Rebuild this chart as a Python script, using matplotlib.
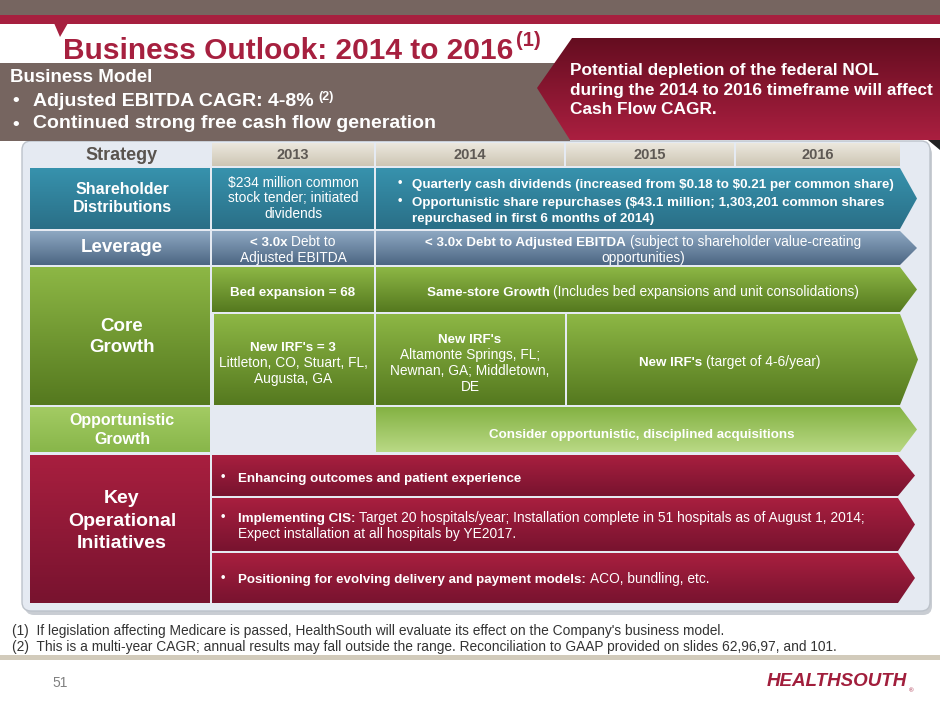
import matplotlib
matplotlib.use("Agg")
import matplotlib.pyplot as plt
import numpy as np
from matplotlib import font_manager
from matplotlib.colors import LinearSegmentedColormap
from matplotlib.patches import FancyBboxPatch, Polygon, Rectangle

# ---- slide text -------------------------------------------------------------
TITLE = "Business Outlook: 2014 to 2016"
TITLE_NOTE = "(1)"
MODEL_HEAD = "Business Model"
MODEL_BULLETS = ["Adjusted EBITDA CAGR: 4-8%", "Continued strong free cash flow generation"]
NOL_LINES = ["Potential depletion of the federal NOL",
             "during the 2014 to 2016 timeframe will affect",
             "Cash Flow CAGR."]
YEARS = ["2013", "2014", "2015", "2016"]
ROW_LABELS = ["Shareholder\nDistributions", "Leverage", "Core\nGrowth",
              "Opportunistic\nGrowth", "Key\nOperational\nInitiatives"]
SD_2013 = ["$234 million common", "stock tender; initiated", "dividends"]
SD_BULLETS = [["Quarterly cash dividends (increased from $0.18 to $0.21 per common share)"],
              ["Opportunistic share repurchases ($43.1 million; 1,303,201 common shares",
               "repurchased in first 6 months of 2014)"]]
LEV_2013 = [[("< 3.0x", True), ("Debt to", False)], [("Adjusted EBITDA", False)]]
LEV_ARROW = [[("< 3.0x Debt to Adjusted EBITDA", True), ("(subject to shareholder value-creating", False)],
             [("opportunities)", False)]]
BED_2013 = "Bed expansion = 68"
BED_ARROW = [("Same-store Growth", True), ("(Includes bed expansions and unit consolidations)", False)]
IRF_2013 = ["New IRF's = 3", "Littleton, CO, Stuart, FL,", "Augusta, GA"]
IRF_2014 = ["New IRF's", "Altamonte Springs, FL;", "Newnan, GA; Middletown,", "DE"]
IRF_ARROW = [("New IRF's", True), ("(target of 4-6/year)", False)]
OPP_ARROW = "Consider opportunistic, disciplined acquisitions"
KOI_ROWS = [[[("Enhancing outcomes and patient experience", True)]],
            [[("Implementing CIS:", True),
              ("Target 20 hospitals/year; Installation complete in 51 hospitals as of August 1, 2014;", False)],
             [("Expect installation at all hospitals by YE2017.", False)]],
            [[("Positioning for evolving delivery and payment models:", True), ("ACO, bundling, etc.", False)]]]
FOOTNOTES = ["(1)  If legislation affecting Medicare is passed, HealthSouth will evaluate its effect on the Company's business model.",
             "(2)  This is a multi-year CAGR; annual results may fall outside the range. Reconciliation to GAAP provided on slides 62,96,97, and 101."]
PAGE = "51"
LOGO = "HEALTHSOUTH"

# ---- colours ----------------------------------------------------------------
BROWN = "#766560"
CRIMSON = "#A6203F"
PANEL = "#E5EAF2"

_names = {f.name for f in font_manager.fontManager.ttflist}
NARROW = "Liberation Sans Narrow" in _names
BODY = "Liberation Sans"
TITLE_FONT = "Liberation Sans Narrow" if NARROW else "Liberation Sans"
TITLE_SIZE = 26 if NARROW else 21.5
BOLD_SZ = 9.6   # table text, bold pieces
REG_SZ = 9.9    # table text, regular pieces

fig = plt.figure(figsize=(9.4, 7.05), dpi=100)
ax = fig.add_axes([0, 0, 1, 1])
ax.set_xlim(0, 940)
ax.set_ylim(705, 0)
ax.axis("off")
R = fig.canvas.get_renderer()


def rect(x0, y0, x1, y1):
    return [(x0, y0), (x1, y0), (x1, y1), (x0, y1)]


def chevron(x0, y0, x1, y1, tip=17):
    return [(x0, y0), (x1, y0), (x1 + tip, (y0 + y1) / 2), (x1, y1), (x0, y1)]


def grad(verts, top, bot, z=2):
    poly = Polygon(verts, closed=True, fc="none", ec="none", zorder=z)
    ax.add_patch(poly)
    xs, ys = zip(*verts)
    cmap = LinearSegmentedColormap.from_list("g", [top, bot])
    im = ax.imshow(np.linspace(0, 1, 100)[:, None], cmap=cmap, aspect="auto",
                   extent=(min(xs), max(xs), max(ys), min(ys)), zorder=z,
                   interpolation="bilinear")
    im.set_clip_path(poly)


def rich(x, y, parts, ha="left", color="white", family=BODY):
    """Draw a line made of bold / regular pieces side by side (y = visual centre)."""
    base = y + 0.36 * REG_SZ * 100 / 72
    objs, widths = [], []
    for s, bold in parts:
        size = BOLD_SZ if bold else REG_SZ
        t = ax.text(x, base, s, fontsize=size, fontweight="bold" if bold else "normal",
                    color=color, va="baseline", ha="left", family=family,
                    parse_math=False, zorder=10)
        objs.append(t)
        widths.append(t.get_window_extent(R).width)
    gap = 0.28 * REG_SZ * 100 / 72
    total = sum(widths) + gap * (len(parts) - 1)
    start = x - total / 2 if ha == "center" else x
    for t, w in zip(objs, widths):
        t.set_x(start)
        start += w + gap


def txt(x, y, s, size, bold=False, color="white", ha="center", family=BODY, **kw):
    ax.text(x, y, s, fontsize=size, fontweight="bold" if bold else "normal", color=color,
            ha=ha, va="center", family=family, parse_math=False, zorder=10, **kw)


# ---- header area ------------------------------------------------------------
ax.add_patch(Rectangle((0, 0), 940, 15, fc=BROWN, ec="none"))
ax.add_patch(Rectangle((0, 15), 940, 9, fc=CRIMSON, ec="none"))
ax.add_patch(Polygon([(54, 23), (68, 23), (60, 37)], fc=CRIMSON, ec="none"))
t = ax.text(63, 59, TITLE, fontsize=TITLE_SIZE, fontweight="bold", color=CRIMSON,
            family=TITLE_FONT, va="baseline", ha="left", zorder=10)
bb = t.get_window_extent(R)
ax.text(bb.x1 + 3, 41, TITLE_NOTE, fontsize=TITLE_SIZE * 0.68, fontweight="bold",
        color=CRIMSON, family=TITLE_FONT, va="center", ha="left", zorder=10)

ax.add_patch(Rectangle((0, 63), 570, 78, fc=BROWN, ec="none", zorder=3))
txt(10, 77, MODEL_HEAD, 13.5, bold=True, ha="left")
for i, line in enumerate(MODEL_BULLETS):
    y = 101 + 23 * i
    txt(12, y, "\u2022", 13.5, bold=True, ha="left")
    t = ax.text(33, y, line, fontsize=14, fontweight="bold", color="white",
                family=BODY, va="center", ha="left", zorder=10)
    if i == 0:
        bb = t.get_window_extent(R)
        ax.text(bb.x1 + 5, y - 4, "(2)", fontsize=9, fontweight="bold", color="white",
                family=BODY, va="center", ha="left", zorder=10)

grad([(572, 38), (940, 38), (940, 140), (570, 140), (537, 88)], "#650D20", "#AA1F40", z=4)
for i, line in enumerate(NOL_LINES):
    txt(570, 70 + 20 * i, line, 12.4, bold=True, ha="left")
ax.add_patch(Polygon([(928, 140), (940, 140), (940, 150)], fc="#222222", ec="none", zorder=4))

# ---- table panel ------------------------------------------------------------
ax.add_patch(FancyBboxPatch((25, 145), 907, 470, boxstyle="round,pad=0,rounding_size=9",
                            fc="#C9CDD3", ec="none", zorder=1))
ax.add_patch(FancyBboxPatch((22, 141), 908, 470, boxstyle="round,pad=0,rounding_size=9",
                            fc=PANEL, ec="#BCC2CA", lw=1.0, zorder=1))

# header row
txt(122, 156, "Strategy", 13, bold=True, color="#5A544F")
year_cols = [(212, 374), (376, 564), (566, 734), (736, 900)]
for (x0, x1), yr in zip(year_cols, YEARS):
    grad(rect(x0, 143, x1, 166), "#ECE8DE", "#CDC6B4")
    txt((x0 + x1) / 2, 155, yr, 10.5, bold=True, color="#5E5954")

# shareholder distributions
TEAL = ("#3792AD", "#2A6F87")
grad(rect(30, 168, 210, 229), *TEAL)
grad(rect(212, 168, 374, 229), *TEAL)
grad(chevron(376, 168, 900, 229), *TEAL)
txt(122, 198, ROW_LABELS[0], 11.5, bold=True, linespacing=1.25)
for i, line in enumerate(SD_2013):
    txt(293, 183 + 15.5 * i, line, REG_SZ)
ys = [183, 201]
for (lines, y0) in zip(SD_BULLETS, ys):
    txt(398, y0, "\u2022", 9, bold=True, ha="left")
    for j, line in enumerate(lines):
        rich(412, y0 + 16 * j, [(line, True)])

# leverage
LEV = ("#8EA8C2", "#4C6683")
grad(rect(30, 231, 210, 265), *LEV)
grad(rect(212, 231, 374, 265), *LEV)
grad(chevron(376, 231, 900, 265), *LEV)
txt(122, 248, ROW_LABELS[1], 13.5, bold=True)
for j, parts in enumerate(LEV_2013):
    rich(293, 241 + 16 * j, parts, ha="center")
for j, parts in enumerate(LEV_ARROW):
    rich(643, 241 + 16 * j, parts, ha="center")

# core growth
GREEN = ("#8DB745", "#55791F")
grad(rect(30, 267, 210, 405), *GREEN)
grad(rect(212, 267, 374, 312), *GREEN)
grad(chevron(376, 267, 900, 312), *GREEN)
grad(rect(214, 314, 374, 405), *GREEN)
grad(rect(376, 314, 565, 405), *GREEN)
grad(chevron(567, 314, 900, 405, tip=18), *GREEN)
txt(122, 337, ROW_LABELS[2], 13.5, bold=True, linespacing=1.35)
rich(293, 291, [(BED_2013, True)], ha="center")
rich(643, 291, BED_ARROW, ha="center")
for i, line in enumerate(IRF_2013):
    rich(293, 346 + 16 * i, [(line, i == 0)], ha="center")
for i, line in enumerate(IRF_2014):
    rich(470, 338 + 16 * i, [(line, i == 0)], ha="center")
rich(730, 361, IRF_ARROW, ha="center")

# opportunistic growth
grad(rect(30, 407, 210, 452), "#A3CB63", "#88B64A")
grad(chevron(376, 407, 900, 452), "#84B243", "#B9D985")
txt(122, 430, ROW_LABELS[3], 11.5, bold=True, linespacing=1.3)
rich(642, 433, [(OPP_ARROW, True)], ha="center")

# key operational initiatives
RED = ("#A81F3F", "#78132F")
grad(rect(30, 455, 210, 603), *RED)
txt(122, 521, ROW_LABELS[4], 14, bold=True, linespacing=1.45)
koi_rows = [(455, 496), (498, 551), (553, 603)]
koi_text_y = [477, 517, 578]
for (y0, y1), lines, ty in zip(koi_rows, KOI_ROWS, koi_text_y):
    grad(chevron(212, y0, 898, y1, tip=17), *RED)
    txt(221, ty, "\u2022", 9, bold=True, ha="left")
    for j, parts in enumerate(lines):
        rich(238, ty + 16 * j, parts)

# ---- footer -----------------------------------------------------------------
for i, note in enumerate(FOOTNOTES):
    txt(12, 631 + 16 * i, note, 9.9, color="#333333", ha="left")
ax.add_patch(Rectangle((0, 655), 940, 5, fc="#D2CBBB", ec="none"))
txt(60, 683, PAGE, 10, color="#808080")
txt(837, 682, LOGO, 13.5, bold=True, color="#A11E3C", style="italic")
txt(911, 691, "\u00ae", 4.5, color="#A11E3C")

ax.set_xlim(0, 940)
ax.set_ylim(705, 0)
fig.savefig("out.png", dpi=100)
